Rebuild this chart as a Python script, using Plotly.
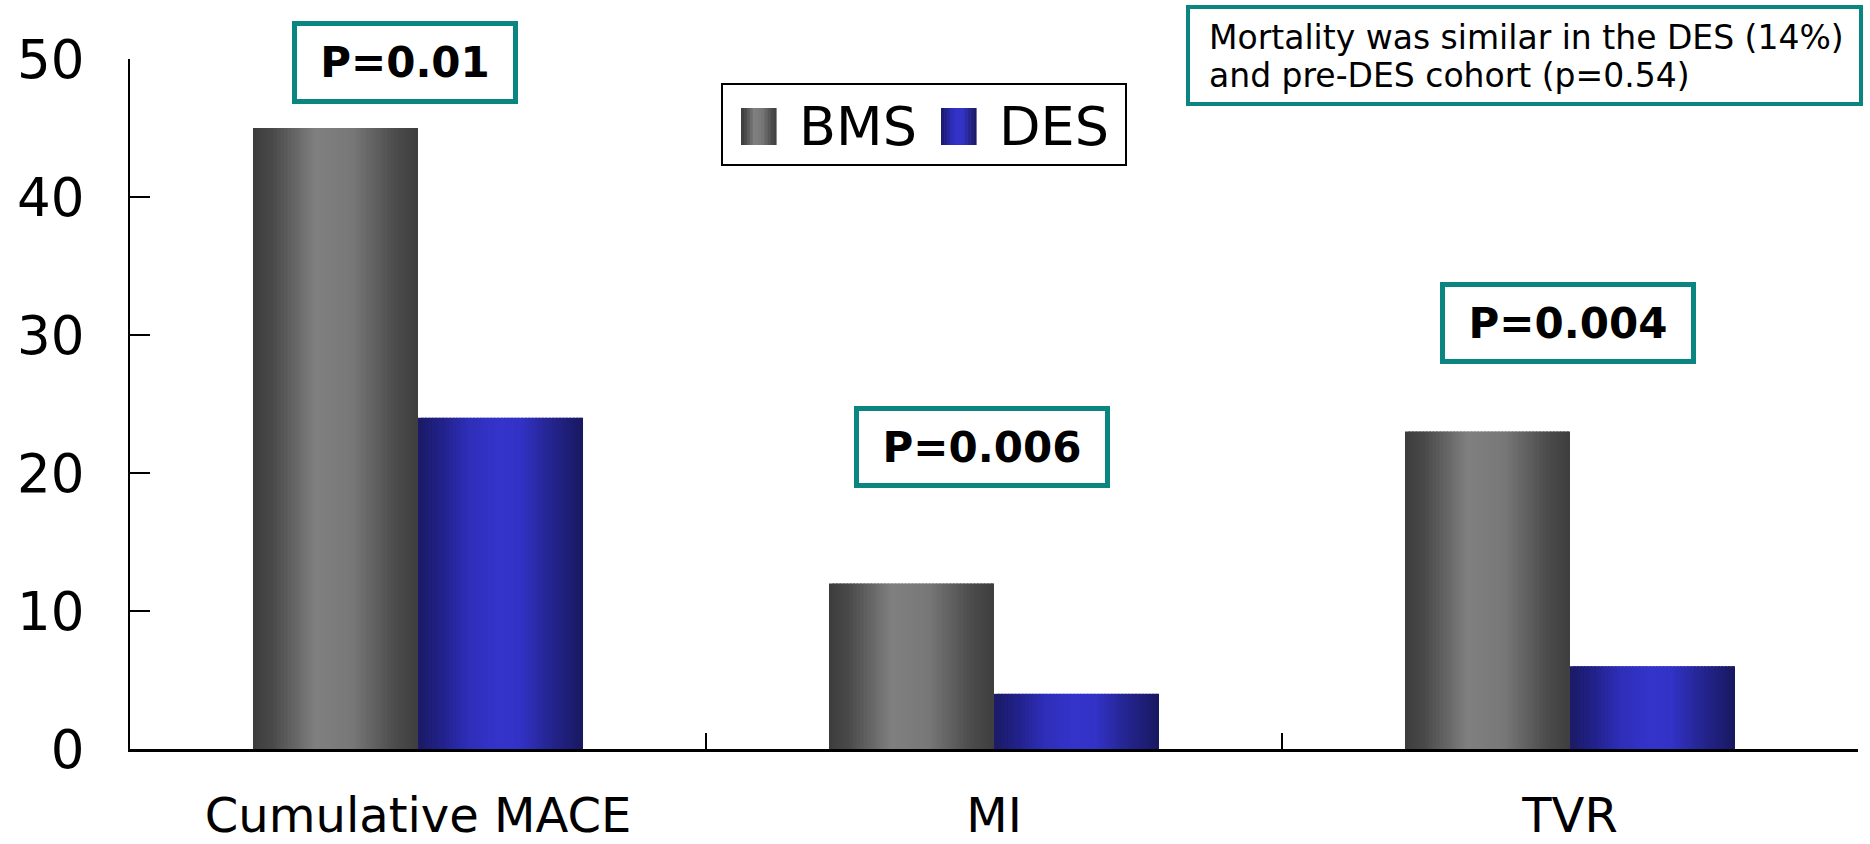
import plotly.graph_objects as go

# Outcome rates (%) by stent type
categories = ["Cumulative MACE", "MI", "TVR"]
bms_values = [45, 12, 23]
des_values = [24, 4, 6]
series_names = ["BMS", "DES"]
p_labels = ["P=0.01", "P=0.006", "P=0.004"]
y_ticks = [0, 10, 20, 30, 40, 50]
note_lines = ["Mortality was similar in the DES (14%)", "and pre-DES cohort (p=0.54)"]

# Page geometry (pixels)
W, H = 1870, 844
L, R, T, B = 130, 1858, 59, 749
TEAL = "#0b8580"
FONT = "DejaVu Sans"


def px(x):
    return (x - L) / (R - L)


def py(y):
    return (B - y) / (B - T)


def lerp_stops(stops, t):
    for (t0, c0), (t1, c1) in zip(stops, stops[1:]):
        if t0 <= t <= t1:
            f = (t - t0) / (t1 - t0) if t1 > t0 else 0
            c = [round(a + (b - a) * f) for a, b in zip(c0, c1)]
            return "rgb(%d,%d,%d)" % tuple(c)
    c = stops[-1][1]
    return "rgb(%d,%d,%d)" % tuple(c)


# Horizontal shading for each series
grey_stops = [(0.0, (60, 60, 60)), (0.12, (74, 74, 74)), (0.38, (128, 128, 128)),
              (0.6, (120, 120, 120)), (0.86, (76, 76, 76)), (1.0, (62, 62, 62))]
blue_stops = [(0.0, (26, 26, 102)), (0.15, (34, 34, 140)), (0.3, (46, 46, 184)),
              (0.5, (52, 52, 204)), (0.62, (50, 50, 198)), (0.78, (38, 38, 150)),
              (1.0, (24, 24, 96))]
series_stops = [grey_stops, blue_stops]
series_values = [bms_values, des_values]

bar_w = 0.2865          # width of one bar in category units
n_strips = 48
strip_w = bar_w / n_strips

fig = go.Figure()
for s, (vals, stops) in enumerate(zip(series_values, series_stops)):
    start = -bar_w + s * bar_w
    for k in range(n_strips):
        t = (k + 0.5) / n_strips
        # each strip overlaps the next one slightly so no seams show
        w = strip_w * (1.6 if k < n_strips - 1 else 1.0)
        fig.add_trace(go.Bar(
            x=categories, y=vals,
            width=w,
            offset=start + k * strip_w,
            marker=dict(color=lerp_stops(stops, t), line=dict(width=0)),
            name=series_names[s], showlegend=False, hoverinfo="x+y",
        ))

shapes = []
annotations = []

# Legend box with shaded swatches
shapes.append(dict(type="rect", xref="paper", yref="paper",
                   x0=px(722), x1=px(1126), y0=py(84), y1=py(165),
                   line=dict(color="black", width=2), fillcolor="white", layer="above"))
swatches = [(741, 776), (941, 976)]
text_x = [797, 997]
for s, ((sx0, sx1), stops) in enumerate(zip(swatches, series_stops)):
    n = 12
    step = (sx1 - sx0) / n
    for k in range(n):
        shapes.append(dict(type="rect", xref="paper", yref="paper",
                           x0=px(sx0 + k * step), x1=px(sx0 + (k + 1) * step + 0.6),
                           y0=py(108), y1=py(145),
                           line=dict(width=0), fillcolor=lerp_stops(stops, (k + 0.5) / n),
                           layer="above"))
    annotations.append(dict(text=series_names[s], xref="paper", yref="paper",
                            x=px(text_x[s]), y=py(127), xanchor="left", yanchor="middle",
                            showarrow=False, font=dict(family=FONT, size=54, color="black")))

# P-value boxes
p_boxes = [(292, 518, 21, 104), (854, 1110, 406, 488), (1440, 1696, 282, 364)]
for label, (x0, x1, y0, y1) in zip(p_labels, p_boxes):
    annotations.append(dict(text=label, xref="paper", yref="paper",
                            x=px((x0 + x1) / 2), y=py((y0 + y1) / 2),
                            xanchor="center", yanchor="middle", showarrow=False,
                            width=(x1 - x0) - 10, height=(y1 - y0) - 10,
                            borderwidth=5, borderpad=0, bordercolor=TEAL, bgcolor="white",
                            font=dict(family=FONT, size=42, color="black", weight="bold")))

# Mortality note
shapes.append(dict(type="rect", xref="paper", yref="paper",
                   x0=px(1188), x1=px(1861), y0=py(7), y1=py(104),
                   line=dict(color=TEAL, width=4), fillcolor="white", layer="above"))
for line_text, line_y in zip(note_lines, [38, 75]):
    annotations.append(dict(text=line_text, xref="paper", yref="paper",
                            x=px(1207), y=py(line_y), xanchor="left", yanchor="middle",
                            align="left", showarrow=False,
                            font=dict(family=FONT, size=33, color="black")))

fig.update_layout(
    width=W, height=H,
    margin=dict(l=L, r=W - R, t=T, b=H - B),
    paper_bgcolor="white", plot_bgcolor="white",
    barmode="overlay", showlegend=False,
    shapes=shapes, annotations=annotations,
    font=dict(family=FONT, color="black"),
)
fig.update_xaxes(
    type="category", range=[-0.5, 2.5], automargin=False,
    showline=True, linecolor="black", linewidth=3,
    ticks="inside", tickson="boundaries", ticklen=16, tickwidth=2, tickcolor="black",
    showgrid=False, zeroline=False,
    tickfont=dict(family=FONT, size=48, color="black"), ticklabelstandoff=22,
)
fig.update_yaxes(
    range=[0, 50], tickvals=y_ticks, automargin=False,
    showline=True, linecolor="black", linewidth=2,
    ticks="inside", ticklen=20, tickwidth=2, tickcolor="black",
    showgrid=False, zeroline=False,
    tickfont=dict(family=FONT, size=53, color="black"), ticklabelstandoff=33,
)

fig.write_html("out.html")
